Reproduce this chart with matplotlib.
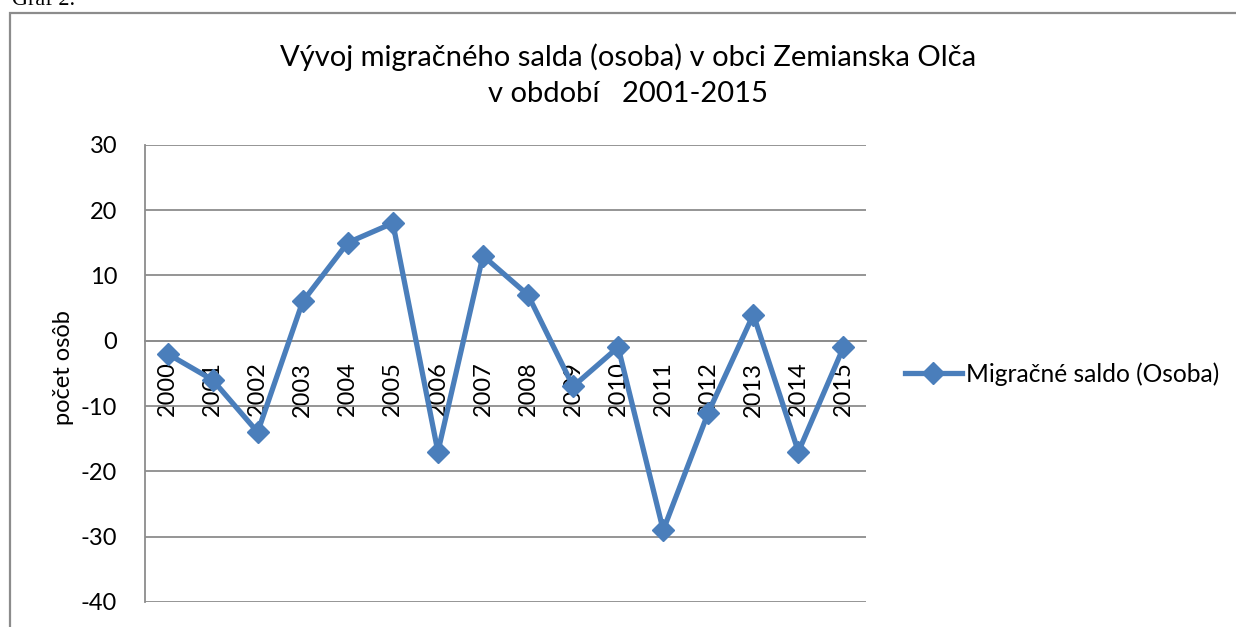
import matplotlib
matplotlib.use("Agg")
import matplotlib.pyplot as plt
from matplotlib.patches import Rectangle

years = ["2000", "2001", "2002", "2003", "2004", "2005", "2006", "2007",
         "2008", "2009", "2010", "2011", "2012", "2013", "2014", "2015"]
saldo = [-2, -6, -14, 6, 15, 18, -17, 13, 7, -7, -1, -29, -11, 4, -17, -1]
y_ticks = [-40, -30, -20, -10, 0, 10, 20, 30]

plt.rcParams['font.family'] = ['Lato', 'DejaVu Sans']
plt.rcParams['axes.unicode_minus'] = False

W, H = 1236, 627
fig = plt.figure(figsize=(W / 100, H / 100), dpi=100)
ax = fig.add_axes([145 / W, 1 - 602 / H, 721 / W, (602 - 144.7) / H])

blue = '#4A7EBB'
grey = '#8c8c8c'
x = list(range(len(years)))
ax.plot(x, saldo, color=blue, lw=3.8, marker='D', ms=11.5,
        mfc=blue, mec=blue, label='Migračné saldo (Osoba)', zorder=3)

ax.spines['bottom'].set_position(('data', 0))
ax.set_xlim(-0.5, len(years) - 0.5)
ax.set_ylim(-40, 30)
ax.set_yticks(y_ticks)
ax.set_xticks(x)
ax.set_xticklabels(years)
ax.grid(axis='y', color=grey, lw=1.3)
ax.set_axisbelow(True)
for s in ['top', 'right']:
    ax.spines[s].set_visible(False)
ax.spines['left'].set_color(grey)
ax.spines['left'].set_linewidth(1.3)
ax.spines['bottom'].set_color(grey)
ax.spines['bottom'].set_linewidth(1.3)
ax.tick_params(axis='y', length=0, pad=20, labelsize=17)
ax.tick_params(axis='x', length=0, pad=15, labelsize=17, labelrotation=90)

fig.text(628 / W, 1 - 75 / H,
         "Vývoj migračného salda (osoba) v obci Zemianska Olča\nv období   2001-2015",
         ha='center', va='center', multialignment='center', fontsize=21,
         linespacing=1.5)
fig.text(63 / W, 1 - 368 / H, "počet osôb", rotation=90,
         ha='center', va='center', fontsize=17)

ax.legend(loc='center left', bbox_to_anchor=(905 / W, 1 - 374 / H),
          bbox_transform=fig.transFigure, frameon=False, fontsize=17.7,
          handlelength=2.3, handletextpad=0.2, borderpad=0, borderaxespad=0)

# outer chart frame, cut off by the page on the right and bottom
fig.add_artist(Rectangle((10 / W, -0.1), 1.2, 1.1 - 13 / H,
                         transform=fig.transFigure, fill=False,
                         ec=grey, lw=1.6))
fig.text(12 / W, 1 + 9 / H, "Graf 2.", family='Liberation Serif',
         fontsize=16, va='top')

fig.savefig("out.png", dpi=100)
